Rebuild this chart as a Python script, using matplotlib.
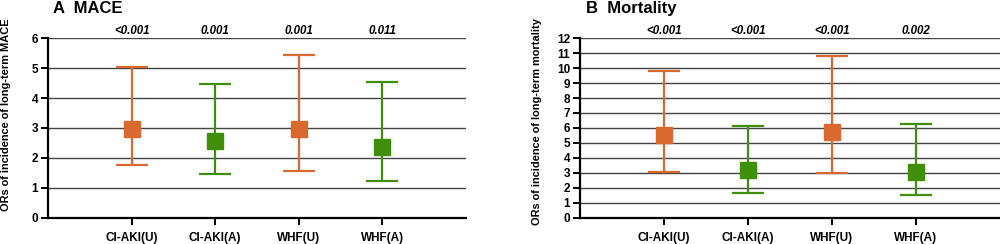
import matplotlib.pyplot as plt
from matplotlib.transforms import offset_copy

labels = ["CI-AKI(U)", "CI-AKI(A)", "WHF(U)", "WHF(A)"]
colors = ["#D9692F", "#3F8F0A", "#D9692F", "#3F8F0A"]

mace_or = [2.98, 2.58, 2.95, 2.35]
mace_lo = [1.78, 1.48, 1.58, 1.23]
mace_hi = [5.02, 4.47, 5.43, 4.52]
mace_p = ["<0.001", "0.001", "0.001", "0.011"]

mort_or = [5.5, 3.2, 5.7, 3.05]
mort_lo = [3.07, 1.68, 3.02, 1.52]
mort_hi = [9.78, 6.1, 10.83, 6.28]
mort_p = ["<0.001", "<0.001", "<0.001", "0.002"]

plt.rcParams['font.family'] = ['Liberation Sans', 'DejaVu Sans']


def Panel(ax, vals, lo, hi, pvals, ymax, ylabel, labelx, labely):
    ptrans = offset_copy(ax.transData, fig=ax.figure, x=0, y=1.5, units='dots')
    for i in range(len(labels)):
        x = i + 1
        ax.errorbar([x], [vals[i]], yerr=[[vals[i] - lo[i]], [hi[i] - vals[i]]],
                    fmt='s', color=colors[i], ms=11.5, elinewidth=1.6,
                    capsize=11.5, capthick=1.6, zorder=3)
        ax.text(x, ymax, pvals[i], ha='center', va='bottom', transform=ptrans,
                fontsize=8.3, fontweight='bold', style='italic', clip_on=False)
    ax.set_xlim(0, 5)
    ax.set_ylim(0, ymax)
    ax.set_yticks(range(0, ymax + 1))
    ax.set_xticks(range(1, 5))
    ax.set_xticklabels(labels, fontsize=8.5, fontweight='bold')
    for t in ax.get_yticklabels():
        t.set_fontsize(8.5)
        t.set_fontweight('bold')
    ax.yaxis.grid(True, color='#444444', lw=1.0)
    ax.set_axisbelow(True)
    for s in ['top', 'right']:
        ax.spines[s].set_visible(False)
    for s in ['left', 'bottom']:
        ax.spines[s].set_linewidth(1.6)
    ax.tick_params(width=1.4, length=5, pad=2)
    ax.tick_params(axis='x', pad=5)
    ax.set_ylabel(ylabel, fontsize=7.9, fontweight='bold', va='center')
    ax.yaxis.set_label_coords(labelx, labely)


fig = plt.figure(figsize=(10, 2.44), dpi=100)
ax1 = fig.add_axes([0.048, 0.107, 0.418, 0.737])
ax2 = fig.add_axes([0.580, 0.107, 0.420, 0.737])

Panel(ax1, mace_or, mace_lo, mace_hi, mace_p, 6,
      "ORs of incidence of long-term MACE", -0.101, 0.575)
Panel(ax2, mort_or, mort_lo, mort_hi, mort_p, 12,
      "ORs of incidence of long-term mortality", -0.102, 0.535)

fig.text(0.053, 0.967, "A  MACE", fontsize=12, fontweight='bold', va='center')
fig.text(0.586, 0.967, "B  Mortality", fontsize=12, fontweight='bold', va='center')

fig.savefig("out.png", dpi=100)
